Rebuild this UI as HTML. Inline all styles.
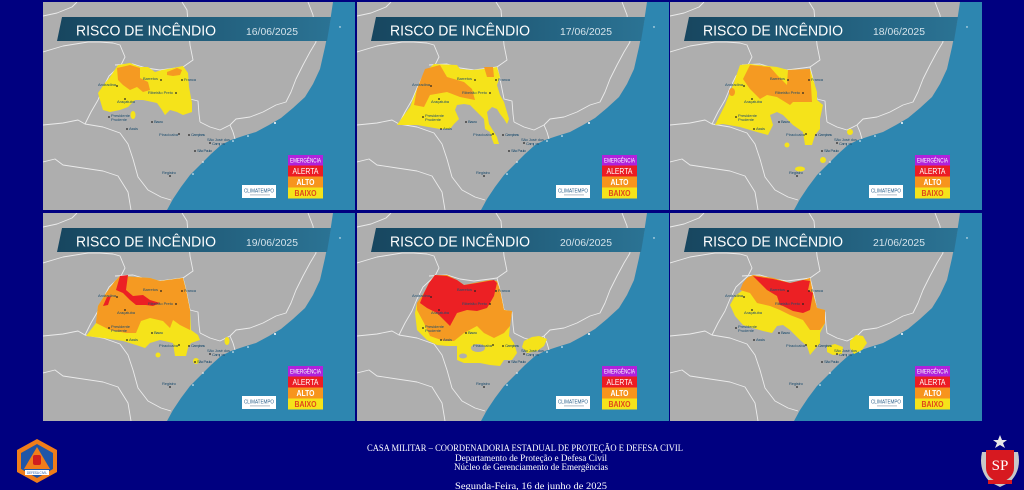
<!DOCTYPE html>
<html><head><meta charset="utf-8"><style>
html,body{margin:0;padding:0;background:#000080;}
svg{display:block;}
</style></head><body>
<svg width="1024" height="490" viewBox="0 0 1024 490" xmlns="http://www.w3.org/2000/svg" xmlns:xlink="http://www.w3.org/1999/xlink">
<defs>
<clipPath id="pc"><rect x="0" y="0" width="312" height="208"/></clipPath>
<linearGradient id="bg" x1="0" y1="0" x2="1" y2="0">
<stop offset="0" stop-color="#17465f"/><stop offset="1" stop-color="#2b7394"/>
</linearGradient>
<g id="base">
<rect width="312" height="208" fill="#aeaeae"/>
<path d="M290,0 L287,20 L282,45 L277,67 L270,82 L262,95 L250,106 L238,116 L226,123 L213,130 L200,134 L188,138 L178,143 L168,152 L158,162 L147,173 L138,185 L130,197 L124,208 L312,208 L312,0 Z" fill="#2d86b0"/>
<g fill="none" stroke="#f2f2f2" stroke-width="0.9" stroke-linejoin="round" opacity="0.9">
<path d="M0,14 L14,11 L29,5 L34,0"/>
<path d="M0,50 L20,44 L45,40 L57,40 L70,41 L77,43 L82,55 L78,63"/>
<path d="M139,0 L144,8 L147,43 L150,58 L140,65"/>
<path d="M265,0 L270,13 L273,40 L267,50 L260,63 L253,77 L248,90 L243,100 L233,103 L220,110 L207,115 L193,117 L187,123 L177,128 L167,125 L157,120"/>
<path d="M72,63 L90,62 L103,66 L117,68 L133,66 L140,65 L143,77 L147,97 L155,99 L156,112 L157,120"/>
<path d="M187,123 L190,130 L192,137"/>
<path d="M78,63 L66,74 L60,86 L55,98 L48,110 L42,122 L60,125 L77,131 L85,142 L90,157 L95,175 L105,188 L118,195 L128,198"/>
<path d="M0,123 L20,121 L35,118 L42,122"/>
<path d="M0,160 L12,157 L20,163 L40,166 L60,169 L75,174 L85,190 L88,208"/>
</g>
<g fill="#fff"><circle cx="178" cy="142" r="0.9"/><circle cx="190" cy="139" r="0.8"/><circle cx="205" cy="134" r="0.8"/><circle cx="232" cy="121" r="1"/><circle cx="160" cy="160" r="0.8"/><circle cx="150" cy="172" r="0.8"/><circle cx="297" cy="25" r="0.7"/></g>
</g>
<g id="top">
<g font-family="Liberation Sans, sans-serif" font-size="4" fill="#1d4d6e">
<g fill="#222"><circle cx="74" cy="84" r="0.9"/><circle cx="118" cy="78" r="0.9"/><circle cx="139" cy="78" r="0.9"/><circle cx="133" cy="91" r="0.9"/><circle cx="82" cy="97" r="0.9"/><circle cx="66" cy="115" r="0.9"/><circle cx="84" cy="127" r="0.9"/><circle cx="109" cy="120" r="0.9"/><circle cx="136" cy="132" r="0.9"/><circle cx="146" cy="133" r="0.9"/><circle cx="167" cy="141" r="0.9"/><circle cx="152" cy="149" r="0.9"/><circle cx="127" cy="174" r="0.9"/></g>
<text x="55" y="84" textLength="18">Andradina</text>
<text x="100" y="78" textLength="15">Barretos</text>
<text x="141" y="79" textLength="12">Franca</text>
<text x="105" y="92" textLength="25">Ribeirão Preto</text>
<text x="74" y="101" textLength="18">Araçatuba</text>
<text x="68" y="115" textLength="19">Presidente</text>
<text x="68" y="119" textLength="16">Prudente</text>
<text x="86" y="128" textLength="9">Assis</text>
<text x="111" y="121" textLength="9">Bauru</text>
<text x="116" y="134" textLength="19">Piracicaba</text>
<text x="148" y="134" textLength="14">Campinas</text>
<text x="164" y="139" textLength="23">São José dos</text>
<text x="169" y="143" textLength="13">Campos</text>
<text x="154" y="150" textLength="15">São Paulo</text>
<text x="119" y="172" textLength="14">Registro</text>
</g>
<polygon points="19,15 288,15 284,39 14,39" fill="url(#bg)"/>
<text x="33" y="33.5" font-family="Liberation Sans, sans-serif" font-size="15" fill="#ffffff" textLength="140" lengthAdjust="spacingAndGlyphs">RISCO DE INCÊNDIO</text>
<rect x="245" y="153" width="35" height="10.5" fill="#b022dc"/>
<rect x="245" y="163.5" width="35" height="11" fill="#ec1c24"/>
<rect x="245" y="174.5" width="35" height="11" fill="#f7941d"/>
<rect x="245" y="185.5" width="35" height="11" fill="#f5e31a"/>
<g font-family="Liberation Sans, sans-serif" text-anchor="middle">
<text x="262.5" y="160.5" font-size="6" fill="#fff" textLength="31" lengthAdjust="spacingAndGlyphs">EMERGÊNCIA</text>
<text x="262.5" y="172" font-size="8" fill="#fff" textLength="26" lengthAdjust="spacingAndGlyphs">ALERTA</text>
<text x="262.5" y="183" font-size="8" font-weight="bold" fill="#fff" textLength="18" lengthAdjust="spacingAndGlyphs">ALTO</text>
<text x="262.5" y="194" font-size="8" font-weight="bold" fill="#e0481a" textLength="22" lengthAdjust="spacingAndGlyphs">BAIXO</text>
</g>
<rect x="199" y="183" width="34" height="13" fill="#ffffff"/>
<text x="201" y="190.5" font-family="Liberation Sans, sans-serif" font-size="5" fill="#2a5f8a" textLength="30" lengthAdjust="spacingAndGlyphs">CLIMATEMPO</text>
<rect x="207" y="192.5" width="20" height="0.8" fill="#9aaab8"/>
</g>
</defs>

<rect width="1024" height="490" fill="#000080"/>

<!-- Panel 1 -->
<g transform="translate(43,2)" clip-path="url(#pc)">
<use xlink:href="#base"/>
<path d="M57,98 L55,91 L62,81 L67,75 L75,63 L87,61 L97,65 L105,65 L112,70 L119,68 L130,66 L140,64 L145,71 L146,85 L149,101 L149,110 L140,113 L134,110 L127,108 L122,113 L119,108 L114,101 L100,98 L92,98 L85,105 L77,108 L67,110 L60,108 Z" fill="#f5e31a"/>
<ellipse cx="90" cy="113" rx="2.5" ry="4" fill="#f5e31a"/>
<path d="M74,66 L87,63 L97,66 L97,76 L105,80 L107,88 L100,90 L94,85 L87,88 L80,83 L75,78 Z" fill="#f59a22"/>
<path d="M124,70 L134,66 L139,68 L137,73 L130,74 L124,73 Z" fill="#f59a22"/>
<use xlink:href="#top"/>
<text x="203" y="33" font-family="Liberation Sans, sans-serif" font-size="10" fill="#d3e2ea" textLength="52" lengthAdjust="spacingAndGlyphs">16/06/2025</text>
</g>

<!-- Panel 2 -->
<g transform="translate(357,2)" clip-path="url(#pc)">
<use xlink:href="#base"/>
<path d="M77,62 L100,63 L103,67 L115,68 L127,67 L140,65 L143,75 L140,83 L143,93 L147,100 L152,117 L150,122 L147,117 L143,112 L140,107 L135,105 L130,110 L132,122 L137,130 L140,135 L142,142 L137,142 L135,137 L133,130 L128,127 L127,117 L120,110 L113,103 L107,102 L100,103 L98,108 L102,117 L97,122 L93,127 L83,127 L60,123 L40,123 L47,113 L53,105 L58,92 L62,82 L70,68 Z" fill="#f5e31a"/>
<path d="M68,67 L83,63 L90,75 L107,80 L115,87 L118,98 L103,95 L90,90 L73,93 L67,105 L57,103 L60,87 Z" fill="#f59a22"/>
<path d="M127,65 L136,65 L137,75 L130,75 Z" fill="#f59a22"/>
<use xlink:href="#top"/>
<text x="203" y="33" font-family="Liberation Sans, sans-serif" font-size="10" fill="#d3e2ea" textLength="52" lengthAdjust="spacingAndGlyphs">17/06/2025</text>
</g>

<!-- Panel 3 -->
<g transform="translate(670,2)" clip-path="url(#pc)">
<use xlink:href="#base"/>
<path d="M70,63 L80,62 L107,65 L118,68 L140,67 L143,77 L147,90 L147,98 L153,103 L150,117 L150,127 L145,133 L142,143 L135,143 L133,130 L123,123 L113,113 L107,110 L100,113 L103,123 L98,133 L87,130 L70,125 L53,122 L45,123 L55,103 L63,83 Z" fill="#f5e31a"/>
<path d="M80,63 L100,65 L107,73 L117,83 L118,68 L140,67 L142,100 L123,100 L120,103 L107,95 L97,93 L90,97 L80,87 L73,77 Z" fill="#f59a22"/>
<ellipse cx="62" cy="90" rx="3" ry="4" fill="#f59a22"/>
<g fill="#f5e31a"><circle cx="180" cy="130" r="3"/><circle cx="117" cy="143" r="2.5"/><ellipse cx="130" cy="167" rx="5" ry="2.5"/><circle cx="153" cy="158" r="3"/></g>
<use xlink:href="#top"/>
<text x="203" y="33" font-family="Liberation Sans, sans-serif" font-size="10" fill="#d3e2ea" textLength="52" lengthAdjust="spacingAndGlyphs">18/06/2025</text>
</g>

<!-- Panel 4 -->
<g transform="translate(43,213)" clip-path="url(#pc)">
<use xlink:href="#base"/>
<path d="M77,63 L107,65 L117,68 L140,65 L143,77 L147,97 L148,117 L155,122 L157,127 L148,130 L145,135 L143,143 L132,143 L130,130 L117,127 L107,130 L102,135 L93,132 L80,128 L60,125 L43,123 L53,110 L55,93 L63,80 L72,68 Z" fill="#f5e31a"/>
<path d="M77,63 L107,65 L117,68 L140,65 L143,77 L147,97 L147,117 L137,112 L130,107 L127,115 L120,108 L107,105 L98,108 L93,120 L83,120 L67,117 L53,110 L55,93 L63,80 L72,68 Z" fill="#f59a22"/>
<path d="M77,63 L85,62 L83,77 L90,83 L100,82 L107,87 L117,90 L110,93 L103,92 L93,92 L87,87 L80,80 L73,77 Z" fill="#ec2024"/>
<path d="M60,93 L64,84 L68,83 L65,92 Z" fill="#ec2024"/>
<g fill="#f5e31a"><ellipse cx="184" cy="128" rx="2.5" ry="4"/><circle cx="115" cy="142" r="2.5"/><circle cx="153" cy="148" r="3"/></g>
<use xlink:href="#top"/>
<text x="203" y="33" font-family="Liberation Sans, sans-serif" font-size="10" fill="#d3e2ea" textLength="52" lengthAdjust="spacingAndGlyphs">19/06/2025</text>
</g>

<!-- Panel 5 -->
<g transform="translate(357,213)" clip-path="url(#pc)">
<use xlink:href="#base"/>
<path d="M78,62 L90,62 L100,67 L107,72 L117,70 L133,67 L140,68 L143,77 L147,97 L155,98 L153,113 L152,123 L157,130 L160,140 L155,147 L147,147 L143,153 L133,152 L123,150 L107,150 L100,147 L100,133 L90,133 L80,132 L70,127 L60,117 L58,100 L60,90 L67,80 L72,70 Z" fill="#f5e31a"/>
<g fill="#aeaeae"><ellipse cx="121" cy="135" rx="7" ry="4"/><ellipse cx="106" cy="143" rx="4" ry="2.5"/></g>
<path d="M78,62 L90,62 L100,67 L107,72 L117,70 L133,67 L140,68 L143,77 L147,97 L155,98 L153,113 L147,120 L137,125 L127,120 L120,113 L107,120 L97,128 L87,128 L73,123 L67,110 L60,97 L60,90 L67,80 L72,70 Z" fill="#f59a22"/>
<path d="M78,62 L90,63 L100,67 L107,72 L120,70 L137,67 L140,70 L137,83 L133,90 L130,95 L120,98 L110,97 L100,100 L93,113 L87,107 L80,100 L70,95 L63,90 L67,80 L72,70 Z" fill="#ec2024"/>
<path d="M167,128 L175,124 L182,123 L190,126 L187,133 L180,138 L170,140 L165,134 Z" fill="#f5e31a"/>
<use xlink:href="#top"/>
<text x="203" y="33" font-family="Liberation Sans, sans-serif" font-size="10" fill="#d3e2ea" textLength="52" lengthAdjust="spacingAndGlyphs">20/06/2025</text>
</g>

<!-- Panel 6 -->
<g transform="translate(670,213)" clip-path="url(#pc)">
<use xlink:href="#base"/>
<path d="M77,65 L83,62 L103,65 L120,70 L133,67 L140,65 L143,80 L147,95 L155,97 L155,110 L150,120 L150,130 L145,136 L140,142 L137,133 L130,127 L120,117 L113,112 L107,113 L102,120 L93,118 L83,115 L73,112 L65,103 L60,92 L65,83 L73,77 Z" fill="#f5e31a"/>
<path d="M77,65 L83,62 L103,65 L120,70 L133,67 L140,65 L143,80 L147,95 L155,97 L155,110 L150,117 L140,117 L133,107 L120,102 L110,97 L100,93 L87,90 L80,80 L70,77 L73,70 Z" fill="#f59a22"/>
<path d="M83,63 L103,66 L120,70 L133,67 L140,68 L138,77 L143,80 L140,97 L133,100 L123,98 L113,93 L110,92 L107,83 L97,77 L90,70 Z" fill="#ec2024"/>
<path d="M157,133 L165,131 L173,134 L172,141 L163,142 L157,139 Z" fill="#f5e31a"/>
<path d="M180,128 L186,122 L193,123 L197,130 L192,137 L184,141 L180,135 Z" fill="#f5e31a"/>
<use xlink:href="#top"/>
<text x="203" y="33" font-family="Liberation Sans, sans-serif" font-size="10" fill="#d3e2ea" textLength="52" lengthAdjust="spacingAndGlyphs">21/06/2025</text>
</g>

<!-- Footer -->
<g font-family="Liberation Serif, serif" fill="#ffffff" text-anchor="middle">
<text x="525" y="451" font-size="9" textLength="316" lengthAdjust="spacingAndGlyphs">CASA MILITAR – COORDENADORIA ESTADUAL DE PROTEÇÃO E DEFESA CIVIL</text>
<text x="531" y="461" font-size="9" textLength="152" lengthAdjust="spacingAndGlyphs">Departamento de Proteção e Defesa Civil</text>
<text x="531" y="470" font-size="9" textLength="154" lengthAdjust="spacingAndGlyphs">Núcleo de Gerenciamento de Emergências</text>
<text x="531" y="489" font-size="9" textLength="152" lengthAdjust="spacingAndGlyphs">Segunda-Feira, 16 de junho de 2025</text>
</g>

<!-- Left logo (Defesa Civil) -->
<g>
<polygon points="37,439 57,450 57,472 37,483 17,472 17,450" fill="#f07d1a"/>
<polygon points="37,444 53,453 53,469 37,478 21,469 21,453" fill="#1f56a8"/>
<polygon points="37,447 50,469 24,469" fill="#f07d1a"/>
<rect x="33" y="455" width="8" height="10" rx="2" fill="#d01e1e"/>
<rect x="25" y="470" width="24" height="5" fill="#ffffff"/>
<text x="37" y="474" font-family="Liberation Sans, sans-serif" font-size="3.5" fill="#1f56a8" text-anchor="middle" textLength="20" lengthAdjust="spacingAndGlyphs">DEFESA CIVIL</text>
</g>

<!-- Right logo (SP) -->
<g>
<polygon points="1000,435 1002,440 1007,440 1003,443 1005,448 1000,445 995,448 997,443 993,440 998,440" fill="#e8e8e8"/>
<path d="M982,452 Q978,470 990,482 L1000,487 L1010,482 Q1022,470 1018,452 Z" fill="#c8c8c8"/>
<path d="M986,450 L1014,450 L1014,468 Q1014,478 1000,483 Q986,478 986,468 Z" fill="#d71920"/>
<text x="1000" y="470" font-family="Liberation Serif, serif" font-size="15" fill="#ffffff" text-anchor="middle">SP</text>
<rect x="988" y="480" width="24" height="4" fill="#d71920"/>
</g>
</svg>
</body></html>
